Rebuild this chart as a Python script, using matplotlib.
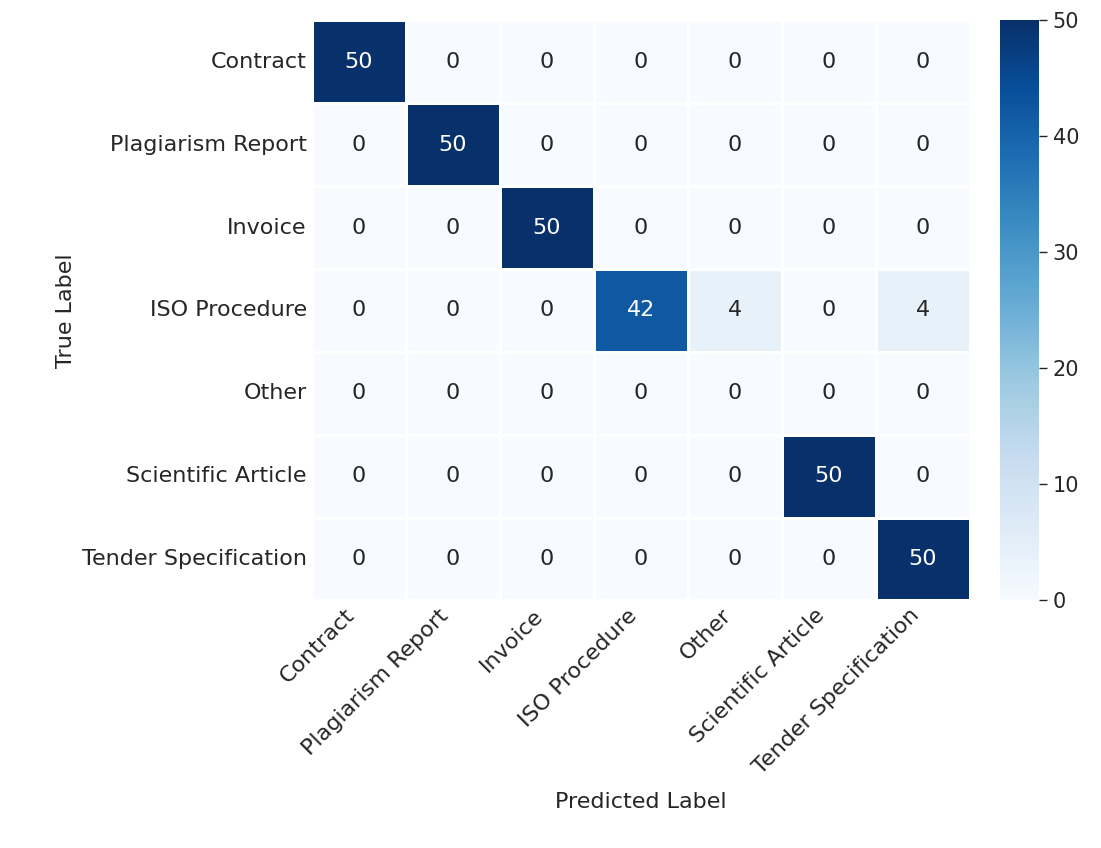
import numpy as np
import matplotlib
matplotlib.use("Agg")
import matplotlib.pyplot as plt
import seaborn as sns

labels = ["Contract", "Plagiarism Report", "Invoice", "ISO Procedure",
          "Other", "Scientific Article", "Tender Specification"]
cm = np.array([
    [50, 0, 0, 0, 0, 0, 0],
    [0, 50, 0, 0, 0, 0, 0],
    [0, 0, 50, 0, 0, 0, 0],
    [0, 0, 0, 42, 4, 0, 4],
    [0, 0, 0, 0, 0, 0, 0],
    [0, 0, 0, 0, 0, 50, 0],
    [0, 0, 0, 0, 0, 0, 50],
])

sns.set_theme(style="white")
plt.rcParams['font.family'] = ['DejaVu Sans']

fig = plt.figure(figsize=(11.01, 8.48), dpi=100)
ax = fig.add_axes([0.283, 0.292, 0.598, 0.684])
cax = fig.add_axes([0.908, 0.292, 0.036, 0.684])

sns.heatmap(cm, annot=True, fmt="d", cmap="Blues", linewidths=1, linecolor="white",
            xticklabels=labels, yticklabels=labels, ax=ax, cbar_ax=cax,
            vmin=0, vmax=50, annot_kws={"size": 16})

ax.set_xticklabels(labels, rotation=45, ha="right", fontsize=16)
ax.set_yticklabels(labels, rotation=0, fontsize=16)
ax.tick_params(length=0)
ax.set_xlabel("Predicted Label", fontsize=16, labelpad=10)
ax.set_ylabel("True Label", fontsize=16)

cax.tick_params(labelsize=15, length=6, width=1, left=False, right=True)
cax.yaxis.set_ticks([0, 10, 20, 30, 40, 50])
for s in cax.spines.values():
    s.set_visible(False)

fig.savefig("out.png", dpi=100)
